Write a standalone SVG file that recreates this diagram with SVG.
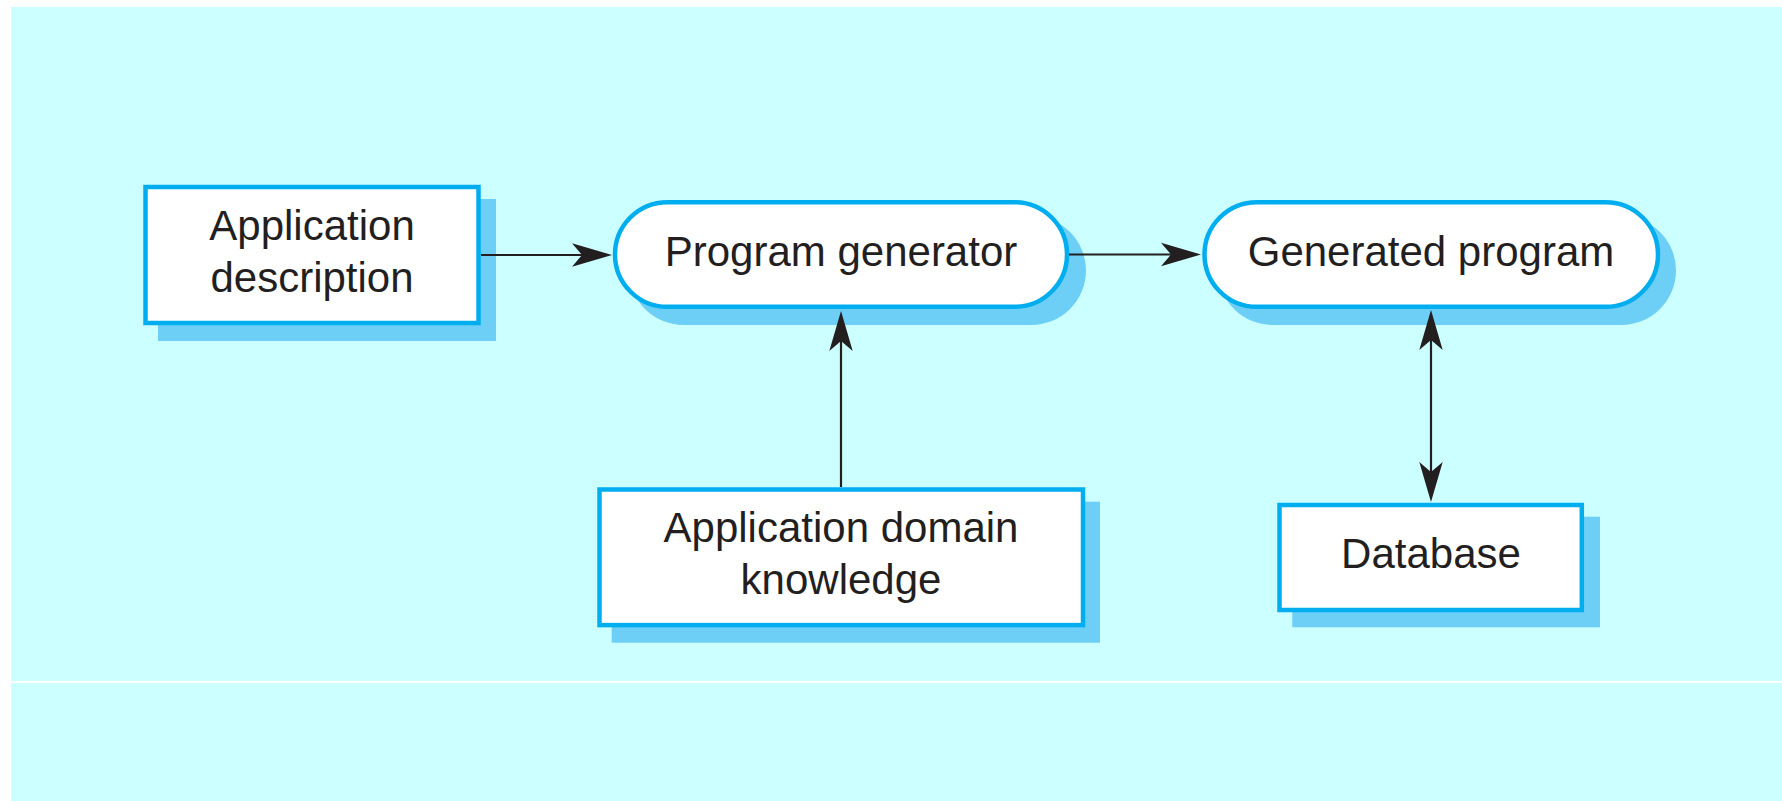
<svg xmlns="http://www.w3.org/2000/svg" width="1782" height="801" viewBox="0 0 1782 801">
  <style>
    .node { fill: #FFFFFF; stroke: #00AEEF; stroke-width: 4.5; }
    .shadow { fill: #6DCFF6; stroke: none; }
    .label { font-family: "Liberation Sans", Arial, sans-serif; font-size: 42px; fill: #231F20; text-anchor: middle; }
    .conn { stroke: #231F20; stroke-width: 2.2; fill: none; }
  </style>
  <defs>
    <marker id="ah" markerUnits="userSpaceOnUse" markerWidth="44" markerHeight="28" viewBox="-22 -14 44 28" refX="0" refY="0" orient="auto-start-reverse">
      <path d="M20,0 L-20,-11.7 L-10,0 L-20,11.7 Z" fill="#231F20"/>
    </marker>
  </defs>

  <rect x="11" y="7" width="1771" height="794" fill="#CCFFFF"/>
  <line x1="11" y1="682" x2="1782" y2="682" stroke="#FFFFFF" stroke-width="2"/>

  <g id="application-description">
    <rect class="shadow" x="158" y="199" width="338" height="142"/>
    <rect class="node" x="145.5" y="187" width="333" height="136"/>
    <text class="label" x="312" y="239.5">Application</text>
    <text class="label" x="312" y="292">description</text>
  </g>

  <g id="program-generator">
    <rect class="shadow" x="629" y="216" width="457" height="109" rx="54.5"/>
    <rect class="node" x="615" y="202.2" width="452" height="104.6" rx="52.3"/>
    <text class="label" x="841" y="266">Program generator</text>
  </g>

  <g id="generated-program">
    <rect class="shadow" x="1218" y="216" width="458" height="109" rx="54.5"/>
    <rect class="node" x="1204.5" y="202.2" width="453.5" height="104.6" rx="52.3"/>
    <text class="label" x="1431" y="266">Generated program</text>
  </g>

  <g id="application-domain-knowledge">
    <rect class="shadow" x="611.7" y="501.7" width="488.3" height="141"/>
    <rect class="node" x="599.5" y="489.5" width="483.5" height="135.6"/>
    <text class="label" x="841" y="541.7">Application domain</text>
    <text class="label" x="841" y="594">knowledge</text>
  </g>

  <g id="database">
    <rect class="shadow" x="1292.3" y="516.7" width="307.7" height="110.6"/>
    <rect class="node" x="1279.5" y="505" width="302.3" height="105"/>
    <text class="label" x="1431" y="568.3">Database</text>
  </g>

  <g id="connectors">
    <line class="conn" x1="481" y1="255" x2="592" y2="255" marker-end="url(#ah)"/>
    <line class="conn" x1="1069" y1="254.5" x2="1181" y2="254.5" marker-end="url(#ah)"/>
    <line class="conn" x1="841" y1="487" x2="841" y2="331" marker-end="url(#ah)"/>
    <line class="conn" x1="1431" y1="330" x2="1431" y2="482" marker-start="url(#ah)" marker-end="url(#ah)"/>
  </g>
</svg>
